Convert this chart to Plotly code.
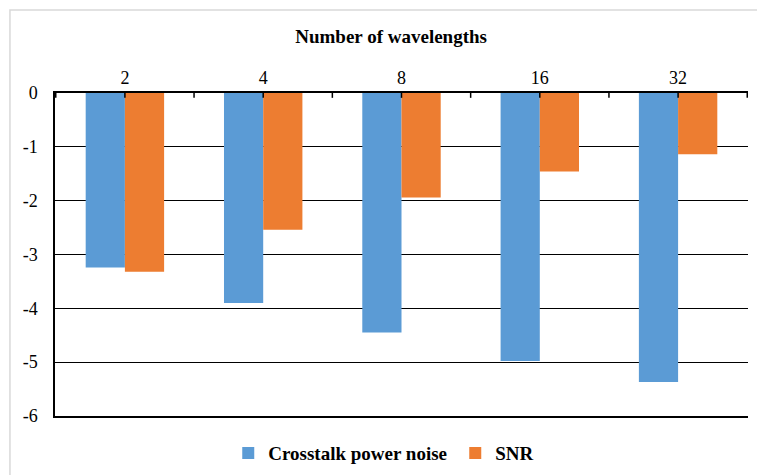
import plotly.graph_objects as go

categories = ["2", "4", "8", "16", "32"]
crosstalk = [-3.24, -3.90, -4.45, -4.98, -5.37]
snr = [-3.32, -2.54, -1.94, -1.46, -1.14]
y_ticks = [0, -1, -2, -3, -4, -5, -6]

FONT = "Liberation Serif, Times New Roman, DejaVu Serif, serif"

fig = go.Figure()
fig.add_trace(go.Bar(x=categories, y=crosstalk, name="Crosstalk power noise",
                     marker=dict(color="#5B9BD5", line=dict(width=0))))
fig.add_trace(go.Bar(x=categories, y=snr, name="SNR",
                     marker=dict(color="#ED7D31", line=dict(width=0))))

# tick marks crossing the top axis line, at category centres and boundaries
for i in range(len(categories) * 2 + 1):
    fig.add_shape(type="line", xref="x", yref="y",
                  x0=i * 0.5 - 0.5, x1=i * 0.5 - 0.5, y0=-0.09, y1=0.09,
                  line=dict(color="black", width=1.5), layer="above")

# chart area border (only top/left visible in the crop)
fig.add_shape(type="rect", xref="paper", yref="paper",
              x0=-0.065, x1=1.1, y0=-0.4, y1=1.257,
              line=dict(color="#D9D9D9", width=1.5), layer="below")

fig.update_layout(
    width=757, height=475,
    margin=dict(l=55, r=9, t=93, b=59, autoexpand=False),
    paper_bgcolor="white", plot_bgcolor="white",
    barmode="group", bargap=0.433, bargroupgap=0,
    font=dict(family=FONT, size=18, color="black"),
    title=dict(text="Number of wavelengths", x=0.485, xref="paper", xanchor="center",
               y=1 - 36 / 475, yref="container", yanchor="middle",
               font=dict(family=FONT, size=19, weight="bold", color="black")),
    legend=dict(orientation="h", x=0.25, xanchor="left", y=-0.115, yanchor="middle",
                font=dict(family=FONT, size=19, weight="bold", color="black"),
                itemwidth=30, entrywidth=182),
    showlegend=True,
)

fig.update_xaxes(side="top", type="category", showline=True, linecolor="black",
                 linewidth=1.5, mirror=True, ticks="", ticklen=0, showgrid=False,
                 automargin=False, ticklabelstandoff=0, tickfont=dict(family=FONT, size=18))
fig.update_yaxes(range=[-6, 0], tickvals=y_ticks, ticktext=[str(v) for v in y_ticks],
                 showline=True, linecolor="black", automargin=False,
                 linewidth=1.5, showgrid=True, gridcolor="black", gridwidth=1.3,
                 zeroline=False, ticks="", ticklen=0, ticklabelstandoff=12,
                 tickfont=dict(family=FONT, size=18))

# the page body has a default 8px margin; remove it so the figure fills the window
fig.write_html("out.html", config={"displayModeBar": False},
               post_script="document.body.style.margin='0';")
